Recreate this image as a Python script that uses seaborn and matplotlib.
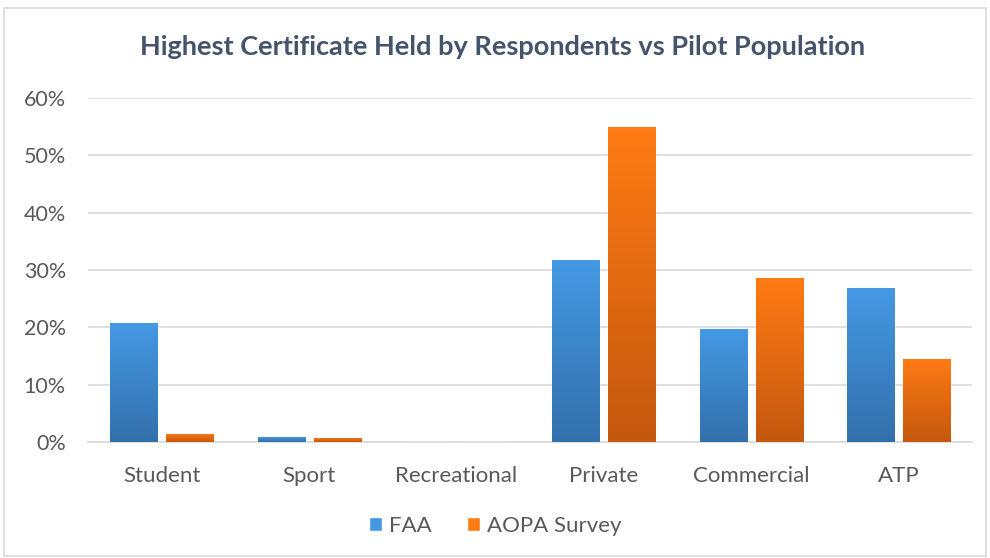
import numpy as np
import pandas as pd
import matplotlib
matplotlib.use("Agg")
import matplotlib.pyplot as plt
import seaborn as sns
from matplotlib.colors import LinearSegmentedColormap
from matplotlib.patches import Rectangle

categories = ["Student", "Sport", "Recreational", "Private", "Commercial", "ATP"]
faa = [0.208, 0.009, 0.0, 0.318, 0.197, 0.269]
aopa = [0.014, 0.007, 0.0, 0.550, 0.286, 0.145]
series = ["FAA", "AOPA Survey"]

df = pd.DataFrame({
    "certificate": categories * 2,
    "share": faa + aopa,
    "source": [series[0]] * len(categories) + [series[1]] * len(categories),
})

# gradient ends (top, bottom) like the Excel fill
grads = {
    "FAA": ("#4599E4", "#3270AB"),
    "AOPA Survey": ("#FF7B14", "#C4580E"),
}
palette = {k: v[0] for k, v in grads.items()}

sns.set_style("white")
plt.rcParams["font.family"] = ["Lato", "DejaVu Sans"]
text_col = "#595959"

fig = plt.figure(figsize=(9.9, 5.58), dpi=100)
ax = fig.add_axes([0.089, 0.208, 0.893, 0.616])

sns.barplot(data=df, x="certificate", y="share", hue="source", order=categories,
            hue_order=series, palette=palette, width=0.76, gap=0.16,
            ax=ax, zorder=3, legend=False)

# replace flat fills with vertical gradients
for container, name in zip(ax.containers, series):
    cmap = LinearSegmentedColormap.from_list(name, [grads[name][1], grads[name][0]])
    for bar in container:
        x0, y0 = bar.get_x(), bar.get_y()
        w, h = bar.get_width(), bar.get_height()
        if h <= 0:
            continue
        bar.set_facecolor("none")
        grad = np.linspace(0, 1, 256).reshape(-1, 1)
        im = ax.imshow(grad, cmap=cmap, origin="lower", aspect="auto",
                       extent=[x0, x0 + w, y0, y0 + h], zorder=3)
        im.set_clip_path(bar)

ax.set_xlim(-0.5, 5.5)
ax.set_ylim(0, 0.6)
ax.set_yticks(np.arange(0, 0.61, 0.1))
ax.set_yticklabels([f"{int(round(t * 100))}%" for t in np.arange(0, 0.61, 0.1)])
ax.yaxis.grid(True, color="#D9D9D9", linewidth=1.2, zorder=0)
ax.set_axisbelow(True)
for s in ["top", "right", "left"]:
    ax.spines[s].set_visible(False)
ax.spines["bottom"].set_color("#D9D9D9")
ax.spines["bottom"].set_linewidth(1.2)
ax.tick_params(axis="both", length=0, colors=text_col, labelsize=16)
ax.tick_params(axis="y", labelsize=15.5)
ax.tick_params(axis="x", pad=17)
ax.tick_params(axis="y", pad=16)
ax.set_xlabel("")
ax.set_ylabel("")

fig.text(0.508, 0.916, "Highest Certificate Held by Respondents vs Pilot Population",
         ha="center", va="center", fontsize=19.5, fontweight="bold", color="#44546A")

# legend
handles = [Rectangle((0, 0), 1, 1, facecolor=grads[n][0]) for n in series]
fig.legend(handles, series, loc="center", bbox_to_anchor=(0.5, 0.058), ncol=2,
           frameon=False, fontsize=16, labelcolor=text_col, handlelength=0.6,
           handleheight=0.6, handletextpad=0.3, columnspacing=1.6)

# outer chart border
fig.add_artist(Rectangle((4 / 990, 2 / 558), 982 / 990, 548 / 558, transform=fig.transFigure,
                         fill=False, edgecolor="#D9D9D9", linewidth=1.2))

fig.savefig("out.png", dpi=100)
